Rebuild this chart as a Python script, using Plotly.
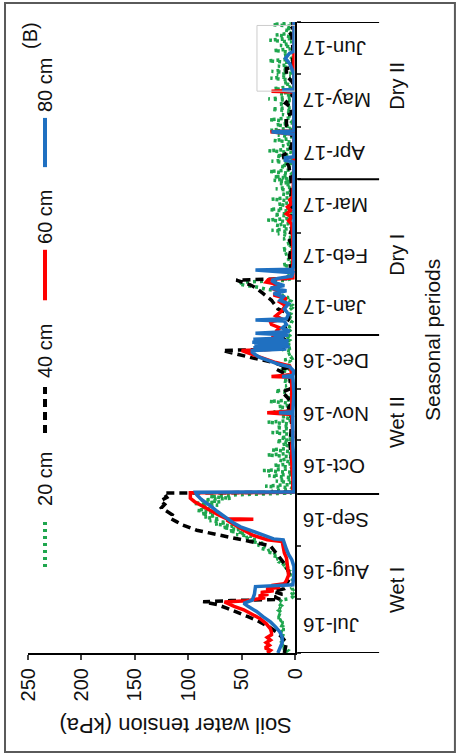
import numpy as np
import pandas as pd
import plotly.graph_objects as go

BASE = pd.Timestamp("2016-07-01")

# ---- 80 cm (blue) : day offset from 1 Jul 2016, value kPa
d80 = [0, 3, 6, 9, 12, 15, 18, 21, 24, 27, 28.7, 30.6, 34, 38.4, 39.5, 45, 50, 54, 57, 60, 64.5, 65.5,
       66, 69, 71, 73, 75, 77, 80, 82, 84.5, 86.5, 89, 91.5, 93, 93.2, 100, 110, 120, 138.5, 139, 139.5,
       150, 159.5, 160, 160.5, 163, 165.5, 167, 169, 171, 172.5, 174, 175, 175.8, 176.5, 177.2, 178, 178.8,
       179.8, 180.6, 181.5, 182.2, 183, 184, 185, 186, 188, 190, 192, 192.6, 193.3, 196, 199, 202, 204,
       206, 208, 209.5, 211, 212.5, 214, 215.5, 216.7, 218, 220, 221.5, 222, 225, 240, 260, 274, 284, 285,
       286.5, 287, 300, 301.5, 302, 315, 325, 325.6, 326, 335, 341, 344, 347, 348, 365]
v80 = [16, 14, 12, 12, 14, 18, 23, 30, 36, 44, 48, 40, 38, 37, 2, 1, 1, 3, 6, 8, 11, 11,
       20, 33, 42, 51, 57, 62, 68, 73, 78, 83, 88, 92, 93, 1, 1, 1, 2, 2, 15, 2,
       1, 2, 12, 2, 1, 5, 15, 25, 33, 37, 40, 40, 8, 39, 5, 38, 6,
       40, 6, 39, 10, 20, 6, 37, 5, 12, 8, 10, 37, 8, 6, 10, 6, 14,
       11, 20, 8, 23, 10, 18, 22, 16, 3, 2, 37, 2, 1, 1, 1, 1, 1, 9,
       9, 1, 1, 22, 1, 1, 1, 12, 1, 1, 5, 9, 5, 1, 1]

# ---- 60 cm (red)
d60 = [0, 1.5, 3, 4.5, 6, 7.5, 9, 10.5, 12, 14, 17, 20, 23, 25, 27, 28.5, 29.5, 30.2, 31, 32, 33, 34,
       35, 36, 37, 38, 39, 40, 42, 45, 50, 55, 58, 61, 64.5, 65.5, 68, 71, 73.5, 76, 77, 77.3, 77.7, 80,
       82.7, 85, 87.5, 89.5, 92.7, 93, 100, 110, 120, 125, 138, 139, 140, 150, 159.5, 160, 161, 164,
       166, 168, 170, 172, 174, 175, 175.8, 177, 178, 179.5, 181, 182.5, 184, 186, 188, 190, 191.6, 193,
       195, 198, 201, 203, 205, 207, 209, 211, 213, 214.5, 216, 217, 225, 240, 248, 250, 252, 254, 256,
       258, 260, 262, 264, 280, 300, 301.5, 302, 324.5, 325, 325.5, 340, 365]
v60 = [26, 23, 28, 24, 27, 23, 26, 22, 22, 23, 27, 33, 42, 48, 57, 63, 66, 45, 35, 28, 34, 25,
       32, 20, 27, 14, 22, 10, 8, 6, 7, 8, 10, 11, 12, 26, 39, 48, 55, 62, 64, 39, 64, 72,
       80, 88, 94, 98, 98, 2, 2, 3, 3, 2, 3, 26, 3, 3, 3, 22, 3, 4,
       5, 18, 28, 36, 46, 50, 15, 22, 12, 25, 12, 22, 8, 18, 14, 22, 23, 12,
       18, 12, 9, 14, 8, 20, 14, 22, 14, 27, 25, 2, 2, 2, 3, 6, 3, 8, 4,
       7, 3, 5, 2, 1, 1, 23, 1, 1, 22, 1, 1, 1]

# ---- 40 cm (black dashed)
d40 = [0, 3, 6, 9, 12, 15, 18, 21, 24, 26, 28, 29.7, 30.3, 31, 32.5, 34, 35.5, 37, 39, 41, 43, 47,
       51, 54, 57, 60, 62, 64.5, 66, 68.5, 71, 74, 76, 78, 80, 82, 84, 86, 88, 90, 92.5, 93, 100, 110,
       118, 123, 126, 135, 142, 145, 151, 153, 160, 164, 165, 168, 171, 173, 175, 175.8, 177, 180, 183,
       186, 190, 193, 196.5, 199, 204, 208, 211, 213, 215.7, 216.5, 220, 230, 236, 240, 245, 250, 255,
       262, 270, 276, 282, 285, 288, 290, 294, 298, 301, 305, 311, 312, 316, 318, 322, 330, 334, 338,
       339, 350, 357, 360, 362, 365]
v40 = [10, 9, 8, 12, 17, 24, 33, 44, 55, 64, 73, 86, 60, 14, 19, 12, 20, 11, 13, 7, 5, 6,
       9, 13, 16, 20, 23, 42, 55, 73, 92, 105, 111, 117, 115, 120, 125, 122, 126, 120, 123, 2, 2, 3,
       4, 5, 4, 3, 6, 3, 12, 4, 5, 17, 6, 20, 42, 55, 68, 12, 10, 8, 12,
       8, 10, 6, 6, 16, 22, 30, 36, 42, 55, 8, 4, 5, 3, 6, 3, 5, 3,
       4, 3, 4, 6, 10, 11, 5, 3, 3, 2, 8, 8, 3, 4, 9, 3, 2, 8, 8,
       2, 2, 3, 6, 2, 2]

# ---- 20 cm (green dotted), daily values per month
g_jul = [9, 7, 11, 8, 12, 9, 12, 10, 13, 9, 13, 11, 14, 10, 14, 12, 15, 11, 15, 12, 16, 12, 16, 13, 15, 12, 16, 13, 15, 12, 14]
g_aug = [4, 2, 5, 2, 4, 2, 3, 1, 3, 2, 4, 2, 3, 2, 5, 8, 6, 10, 8, 12, 10, 14, 12, 17, 15, 22, 18, 27, 24, 32, 28]
g_sep = [35, 30, 42, 36, 48, 40, 55, 47, 62, 52, 68, 58, 75, 64, 80, 70, 85, 74, 88, 78, 92, 80, 88, 72, 95, 70, 88, 60, 80, 55]
g_oct = [3, 22, 4, 3, 28, 3, 4, 18, 3, 5, 25, 2, 3, 30, 4, 3, 20, 3, 4, 15, 5, 3, 26, 3, 4, 22, 3, 4, 12, 3, 18]
g_nov = [3, 14, 3, 4, 22, 3, 4, 18, 2, 4, 26, 3, 4, 12, 3, 4, 20, 3, 4, 16, 2, 4, 24, 3, 4, 10, 3, 4, 19, 3]
g_dec = [4, 9, 3, 4, 12, 3, 4, 8, 2, 4, 14, 3, 4, 6, 3, 4, 10, 3, 4, 7, 3, 4, 12, 3, 4, 6, 3, 4, 9, 3, 5]
g_jan = [4, 3, 5, 3, 6, 3, 4, 3, 5, 3, 6, 3, 4, 3, 5, 3, 6, 3, 5, 4, 8, 6, 12, 10, 18, 16, 28, 34, 45, 53, 50]
g_feb = [10, 4, 3, 8, 3, 4, 9, 3, 5, 12, 4, 3, 7, 3, 4, 10, 4, 3, 13, 5, 4, 8, 3, 4, 11, 4, 5, 16]
g_mar = [3, 22, 4, 3, 18, 4, 3, 26, 4, 3, 20, 5, 3, 24, 4, 3, 16, 4, 3, 22, 4, 3, 12, 4, 3, 18, 5, 3, 14, 4, 20]
g_apr = [3, 20, 4, 3, 24, 4, 3, 14, 5, 3, 22, 4, 3, 18, 4, 3, 25, 4, 3, 12, 5, 3, 20, 4, 3, 16, 4, 3, 23, 4]
g_may = [3, 18, 4, 3, 24, 4, 3, 12, 5, 3, 22, 4, 3, 16, 4, 3, 25, 4, 3, 14, 4, 3, 20, 4, 3, 11, 4, 3, 23, 4, 17]
g_jun = [3, 22, 4, 3, 16, 4, 3, 25, 4, 3, 12, 4, 3, 20, 4, 3, 14, 4, 3, 24, 4, 3, 18, 4, 3, 10, 4, 3, 21, 4]
green_months = [g_jul, g_aug, g_sep, g_oct, g_nov, g_dec, g_jan, g_feb, g_mar, g_apr, g_may, g_jun]
month_starts = ["2016-07-01", "2016-08-01", "2016-09-01", "2016-10-01", "2016-11-01", "2016-12-01",
                "2017-01-01", "2017-02-01", "2017-03-01", "2017-04-01", "2017-05-01", "2017-06-01",
                "2017-07-01"]
month_labels = ["Jul-16", "Aug-16", "Sep-16", "Oct-16", "Nov-16", "Dec-16",
                "Jan-17", "Feb-17", "Mar-17", "Apr-17", "May-17", "Jun-17"]

season_bounds = ["2016-07-01", "2016-10-01", "2017-01-01", "2017-04-01", "2017-07-01"]
season_names = ["Wet I", "Wet II", "Dry I", "Dry II"]
season_label_y = [0.100, 0.366, 0.631, 0.899]

depth_names = ["20 cm", "40 cm", "60 cm", "80 cm"]
depth_colors = ["#1fa64e", "#000000", "#ff0000", "#1f70c1"]


def to_dates(days):
    return BASE + pd.to_timedelta(np.asarray(days, dtype=float), unit="D")


g_dates, g_vals = [], []
for ms, vals in zip(month_starts, green_months):
    start = pd.Timestamp(ms)
    for i, v in enumerate(vals):
        g_dates.append(start + pd.Timedelta(days=i + 0.5))
        g_vals.append(v)

FONT = "Liberation Sans, Arial, sans-serif"
BLACK_DASH = "8px,5px"
GREEN_DOT = "3px,4px"
fig = go.Figure()
fig.add_trace(go.Scatter(x=g_vals, y=g_dates, mode="lines", name=depth_names[0],
                         line=dict(color=depth_colors[0], width=3.5, dash=GREEN_DOT)))
fig.add_trace(go.Scatter(x=v40, y=to_dates(d40), mode="lines", name=depth_names[1],
                         line=dict(color=depth_colors[1], width=3.5, dash=BLACK_DASH)))
fig.add_trace(go.Scatter(x=v60, y=to_dates(d60), mode="lines", name=depth_names[2],
                         line=dict(color=depth_colors[2], width=3.5)))
fig.add_trace(go.Scatter(x=v80, y=to_dates(d80), mode="lines", name=depth_names[3],
                         line=dict(color=depth_colors[3], width=3.5)))

shapes = []
for sb in season_bounds:
    shapes.append(dict(type="line", xref="paper", yref="y", x0=1.01, x1=1.315, y0=sb, y1=sb,
                       line=dict(color="black", width=2)))
shapes.append(dict(type="rect", xref="x", yref="y", x0=35.6, x1=0,
                   y0=str((BASE + pd.Timedelta(days=325.6)).date()),
                   y1=str((BASE + pd.Timedelta(days=363.8)).date()),
                   line=dict(color="#cccccc", width=1)))
shapes.append(dict(type="rect", xref="paper", yref="paper", x0=-0.0861, x1=1.599, y0=-0.1569, y1=1.030,
                   line=dict(color="#5a5a5a", width=2)))
leg_line_y = [(0.1363, 0.2139), (0.3487, 0.4216), (0.559, 0.639), (0.770, 0.848)]
leg_dash = [GREEN_DOT, BLACK_DASH, "solid", "solid"]
for (y0, y1), c, ds in zip(leg_line_y, depth_colors, leg_dash):
    shapes.append(dict(type="line", xref="paper", yref="paper", x0=0.0637, x1=0.0637, y0=y0, y1=y1,
                       line=dict(color=c, width=4, dash=ds)))

ann = []


def add_text(text, x, y, angle, size=20, xanchor="center", yref="paper"):
    ann.append(dict(text=text, xref="paper", yref=yref, x=x, y=y, xanchor=xanchor, yanchor="middle",
                    showarrow=False, textangle=angle, borderpad=0,
                    font=dict(size=size, family=FONT, color="#111")))


leg_text_y = [0.2758, 0.4786, 0.691, 0.900]
for name, yy in zip(depth_names, leg_text_y):
    add_text(name, 0.0637, yy, -90)
add_text("(B)", 0.0075, 0.978, -90)
for name, yy in zip(season_names, season_label_y):
    add_text(name, 1.382, yy, -90)
add_text("Seasonal periods", 1.513, 0.496, -90, size=21)
add_text("Soil water tension (kPa)", 0.554, -0.1157, 180, size=22)
for i, lab in enumerate(month_labels):
    a = pd.Timestamp(month_starts[i])
    b = pd.Timestamp(month_starts[i + 1])
    add_text(lab, 1.026, a + (b - a) / 2, 180, size=20.5, xanchor="left", yref="y")

fig.update_layout(
    width=457, height=754, autosize=False,
    margin=dict(l=28, r=162, t=22, b=101),
    paper_bgcolor="white", plot_bgcolor="white",
    showlegend=False, hovermode=False,
    shapes=shapes, annotations=ann,
    font=dict(family=FONT, size=20, color="#111"),
    xaxis=dict(range=[250, 0], tickvals=[0, 50, 100, 150, 200, 250], ticks="outside", ticklen=5,
               tickwidth=2, showline=True, linewidth=2, linecolor="black", tickangle=-90,
               tickfont=dict(size=20, family=FONT), showgrid=False, zeroline=False),
    yaxis=dict(type="date", range=["2016-07-01", "2017-07-01"], side="right", dtick="M1",
               tick0="2016-07-01", showticklabels=False,
               ticks="outside", ticklen=4, tickwidth=2, showline=True, linewidth=2, linecolor="black",
               showgrid=False, zeroline=False),
)

fig.write_html("out.html", config={"displayModeBar": False},
               post_script="document.body.style.margin='0';")
